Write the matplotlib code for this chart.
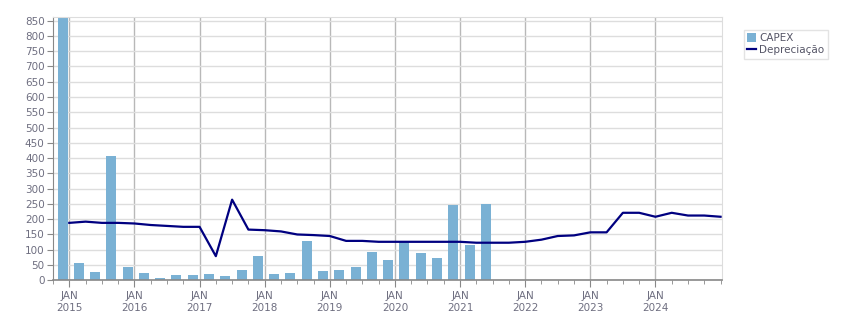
import numpy as np
import matplotlib
matplotlib.use('Agg')
import matplotlib.pyplot as plt
from matplotlib.ticker import MultipleLocator

plt.rcParams['font.family'] = 'DejaVu Sans'
plt.rcParams['font.size'] = 7.5

# --- Data ---
# CAPEX, one bar per quarter starting Q4 2014
capex_quarter = np.arange(27)
capex = [870, 56, 27, 408, 44, 24, 8, 17, 17, 21, 14, 34, 80, 21,
         24, 129, 31, 34, 44, 92, 67, 125, 89, 73, 246, 115, 250]

# Depreciação, months since Jan 2015
dep_month = [0, 3, 6, 9, 12, 15, 18, 21, 24, 27, 30, 33, 36, 39, 42, 45,
             48, 51, 54, 57, 60, 63, 66, 69, 72, 75, 78, 81, 84, 87, 90,
             93, 96, 99, 102, 105, 108, 111, 114, 117, 120]
dep = [188, 192, 188, 188, 186, 181, 178, 175, 175, 79, 264, 166, 164, 160,
       150, 148, 145, 129, 129, 126, 126, 126, 126, 126, 126, 123, 123, 123,
       126, 133, 145, 147, 157, 157, 221, 221, 208, 221, 212, 212, 208]

years = list(range(2015, 2025))

bar_color = '#7ab1d4'
line_color = '#000080'
text_color = '#6e6e80'

fig = plt.figure(figsize=(8.51, 3.13), dpi=100)
ax = fig.add_axes([0.0623, 0.1045, 0.7857, 0.8402])

bar_x = capex_quarter * 3 - 1.25
bars = ax.bar(bar_x, capex, width=1.84, color=bar_color, label='CAPEX', zorder=2)
line, = ax.plot(dep_month, dep, color=line_color, lw=1.6, label='Depreciação', zorder=3)

ax.set_xlim(-3, 120.2)
ax.set_ylim(0, 861)

# y axis
ax.yaxis.set_major_locator(MultipleLocator(50))
ax.grid(axis='y', color='#dddddd', lw=1, zorder=0)
ax.tick_params(axis='y', colors='#888888', labelcolor=text_color, length=4, pad=2)

# x axis: january majors, quarterly minors
ax.set_xticks([12 * (y - 2015) for y in years])
ax.set_xticklabels([f'JAN\n{y}' for y in years], linespacing=1.25)
ax.set_xticks(np.arange(-3, 121, 3), minor=True)
ax.tick_params(axis='x', which='major', colors='#888888', labelcolor=text_color, length=5, pad=3)
ax.tick_params(axis='x', which='minor', colors='#888888', length=3)
ax.grid(axis='x', which='major', color='#b8b8b8', lw=1, zorder=0)

for side in ['top', 'right']:
    ax.spines[side].set_color('#dddddd')
ax.spines['left'].set_color('#888888')
ax.spines['bottom'].set_color('#888888')
ax.spines['bottom'].set_linewidth(1.2)

leg = fig.legend([bars, line], ['CAPEX', 'Depreciação'], loc='upper left',
                 bbox_to_anchor=(0.874, 0.905), frameon=True,
                 fancybox=False, handlelength=0.8, handleheight=0.9, handletextpad=0.3,
                 borderpad=0.35, labelspacing=0.15, borderaxespad=0)
leg.get_frame().set_edgecolor('#dddddd')
leg.get_frame().set_linewidth(1)
for t in leg.get_texts():
    t.set_color('#555566')

fig.savefig('out.png', dpi=100)
